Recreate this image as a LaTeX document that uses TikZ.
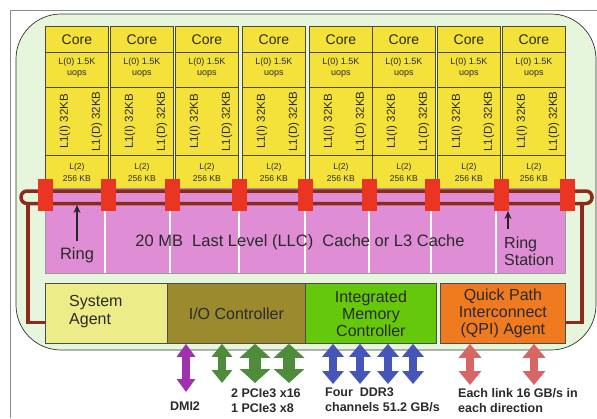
\documentclass[tikz,border=0pt]{standalone}
\usepackage{fontspec}
\setmainfont{Liberation Sans}
\usetikzlibrary{arrows.meta}
\definecolor{framegray}{HTML}{8A8A8A}
\definecolor{diegreen}{HTML}{E6F6DC}
\definecolor{coreyellow}{HTML}{F4E23A}
\definecolor{cellline}{HTML}{4E4A2E}
\definecolor{llcpink}{HTML}{DF8ED6}
\definecolor{ringbrown}{HTML}{8E2A1C}
\definecolor{stationred}{HTML}{EA3522}
\definecolor{sayellow}{HTML}{ECEC88}
\definecolor{ioolive}{HTML}{9C8A2E}
\definecolor{imcgreen}{HTML}{66C80A}
\definecolor{qpiorange}{HTML}{F07A20}
\definecolor{dmipurple}{HTML}{A032B0}
\definecolor{pcigreen}{HTML}{4E8C3C}
\definecolor{ddrblue}{HTML}{4656B8}
\definecolor{qpisalmon}{HTML}{D86664}
\definecolor{txtdark}{HTML}{2A2A2A}
\tikzset{
  cell/.style={draw=cellline, fill=coreyellow, line width=0.8pt, inner sep=0pt,
    anchor=north west, minimum width=63pt},
  coretxt/.style={font=\fontsize{14}{16}\selectfont, text=txtdark},
  smalltxt/.style={font=\fontsize{9}{11}\selectfont, text=txtdark, align=center, inner sep=0pt},
  tinytxt/.style={font=\fontsize{8.5}{12}\selectfont, text=txtdark, align=center, inner sep=0pt},
  l1txt/.style={font=\fontsize{11.5}{13}\selectfont, text=txtdark, rotate=90, inner sep=0pt},
  ringline/.style={draw=ringbrown, line width=3.5pt},
  station/.style={fill=stationred, minimum width=15pt, minimum height=32pt, inner sep=0pt},
  llctxt/.style={font=\fontsize{16.5}{17}\selectfont, text=txtdark, inner sep=0pt},
  ptr/.style={draw=black!85, line width=1.6pt, -{Stealth[length=8pt,width=7pt]}},
  blockbox/.style={draw=black!70, line width=0.8pt, inner sep=0pt, anchor=north west,
    minimum height=60pt, font=\fontsize{16}{17}\selectfont, text=txtdark, align=center},
  lbl/.style={font=\bfseries\fontsize{12.5}{14.5}\selectfont, text=txtdark, inner sep=0pt},
  dmiarrow/.style={draw=dmipurple, line width=8pt,
    arrows={Triangle[width=18pt,length=13pt]-Triangle[width=18pt,length=13pt]}},
  pcismall/.style={draw=pcigreen, line width=8pt,
    arrows={Triangle[width=20pt,length=13pt]-Triangle[width=20pt,length=13pt]}},
  pcibig/.style={draw=pcigreen, line width=12pt,
    arrows={Triangle[width=30pt,length=14pt]-Triangle[width=30pt,length=14pt]}},
  ddrarrow/.style={draw=ddrblue, line width=8pt,
    arrows={Triangle[width=21pt,length=13pt]-Triangle[width=21pt,length=13pt]}},
  qpiarrow/.style={draw=qpisalmon, line width=8pt,
    arrows={Triangle[width=22pt,length=14pt]-Triangle[width=22pt,length=14pt]}},
}
\begin{document}
\begin{tikzpicture}[x=1pt,y=-1pt]
\useasboundingbox (0,0) rectangle (597,418);
\fill[white] (0,0) rectangle (597,418);
% outer frame
\draw[framegray, line width=0.8pt] (10.5,418) -- (10.5,10) -- (597,10);
% die background
\draw[fill=diegreen, draw=black!80, line width=0.7pt, rounded corners=45pt] (16,14) rectangle (596,350);
% cores
\foreach \xl [count=\i] in {45,110,175,242,309,372,437,502} {
  \node[cell, minimum height=26pt, coretxt] (core\i) at (\xl,26) {Core};
  \node[cell, minimum height=35pt] (lzero\i) at (\xl,52) {};
  \node[cell, minimum height=68pt] (lone\i) at (\xl,87) {};
  \node[cell, minimum height=36pt] (ltwo\i) at (\xl,155) {};
  \node[smalltxt] at ([yshift=2pt]lzero\i.center) {L(0) 1.5K\\uops};
  \node[l1txt] at ([xshift=20pt]lone\i.west) {L1(I) 32KB};
  \node[l1txt] at ([xshift=52pt]lone\i.west) {L1(D) 32KB};
  \node[tinytxt] at ([yshift=1pt]ltwo\i.center) {L(2)\\256 KB};
}
% LLC
\node[draw=black!40, fill=llcpink, minimum width=520pt, minimum height=85pt, inner sep=0pt,
  anchor=north west] (llc) at (45,188) {};
\foreach \x in {105,170,239,305,369,431,496}
  \draw[white, line width=1.5pt] (\x,192) -- (\x,272.5);
\node[llctxt] (llclbl) at (300,242) {20 MB\ \ Last Level (LLC)\ \ Cache or L3 Cache};
\node[llctxt] (ringlbl) at (77,255) {Ring};
\node[llctxt, anchor=west, align=left, font=\fontsize{16}{17}\selectfont] (stationlbl) at (504,251) {Ring\\Station};
% bottom blocks
\node[blockbox, fill=sayellow, minimum width=122pt] (sa) at (45,283) {};
\node[anchor=west, align=left, font=\fontsize{16}{18}\selectfont, text=txtdark, inner sep=0pt] (salbl) at (69,312) {System\\Agent};
\node[blockbox, fill=ioolive, minimum width=138pt] (io) at (167,283) {I/O Controller};
\node[blockbox, fill=imcgreen, minimum width=131pt] (imc) at (305,283) {Integrated\\Memory\\Controller};
\node[blockbox, fill=qpiorange, minimum width=125pt] (qpi) at (440,283) {Quick Path\\Interconnect\\(QPI) Agent};
% ring
\draw[ringline, rounded corners=6pt] (21,191) rectangle (592,203.5);
\coordinate (ringL) at (28,203.5);
\coordinate (ringR) at (582,203.5);
\draw[ringline] (ringL) |- ([yshift=-9pt]sa.west);
\draw[ringline] (ringR) |- ([yshift=-9pt]qpi.east);
\foreach \x [count=\k] in {45,108,172,239,305,369,432,501,567}
  \node[station] (st\k) at (\x,195) {};
% pointers
\coordinate (ra) at (77,241);
\coordinate (rb) at (77,205);
\draw[ptr] (ra) -- (rb);
\coordinate (sa1) at (508,229);
\coordinate (sb1) at (508,211);
\draw[ptr] (sa1) -- (sb1);
% I/O arrows
\coordinate (dmiend) at (186,392);
\draw[dmiarrow] (io.south -| dmiend) -- (dmiend);
\coordinate (p1) at (222,383);
\coordinate (p2) at (255,383);
\coordinate (p3) at (289,383);
\draw[pcismall] (io.south -| p1) -- (p1);
\draw[pcibig] (io.south -| p2) -- (p2);
\draw[pcibig] (io.south -| p3) -- (p3);
\coordinate (m1) at (333,384);
\coordinate (m2) at (360,384);
\coordinate (m3) at (388,384);
\coordinate (m4) at (413,384);
\foreach \m in {m1,m2,m3,m4}
  \draw[ddrarrow] (imc.south -| \m) -- (\m);
\coordinate (q1) at (470,385);
\coordinate (q2) at (534,385);
\draw[qpiarrow] (qpi.south -| q1) -- (q1);
\draw[qpiarrow] (qpi.south -| q2) -- (q2);
% labels
\node[lbl] (dmilbl) at (185,406) {DMI2};
\node[lbl, anchor=west, align=left] (pcilbl) at (231,400.5) {2 PCIe3 x16\\1 PCIe3 x8};
\node[lbl, anchor=west, align=left] (ddrlbl) at (325,400) {Four\ \ DDR3\\channels 51.2 GB/s};
\node[lbl, anchor=west, align=left] (qpilbl) at (458,400.5) {Each link 16 GB/s in\\each direction};
\end{tikzpicture}
\end{document}
